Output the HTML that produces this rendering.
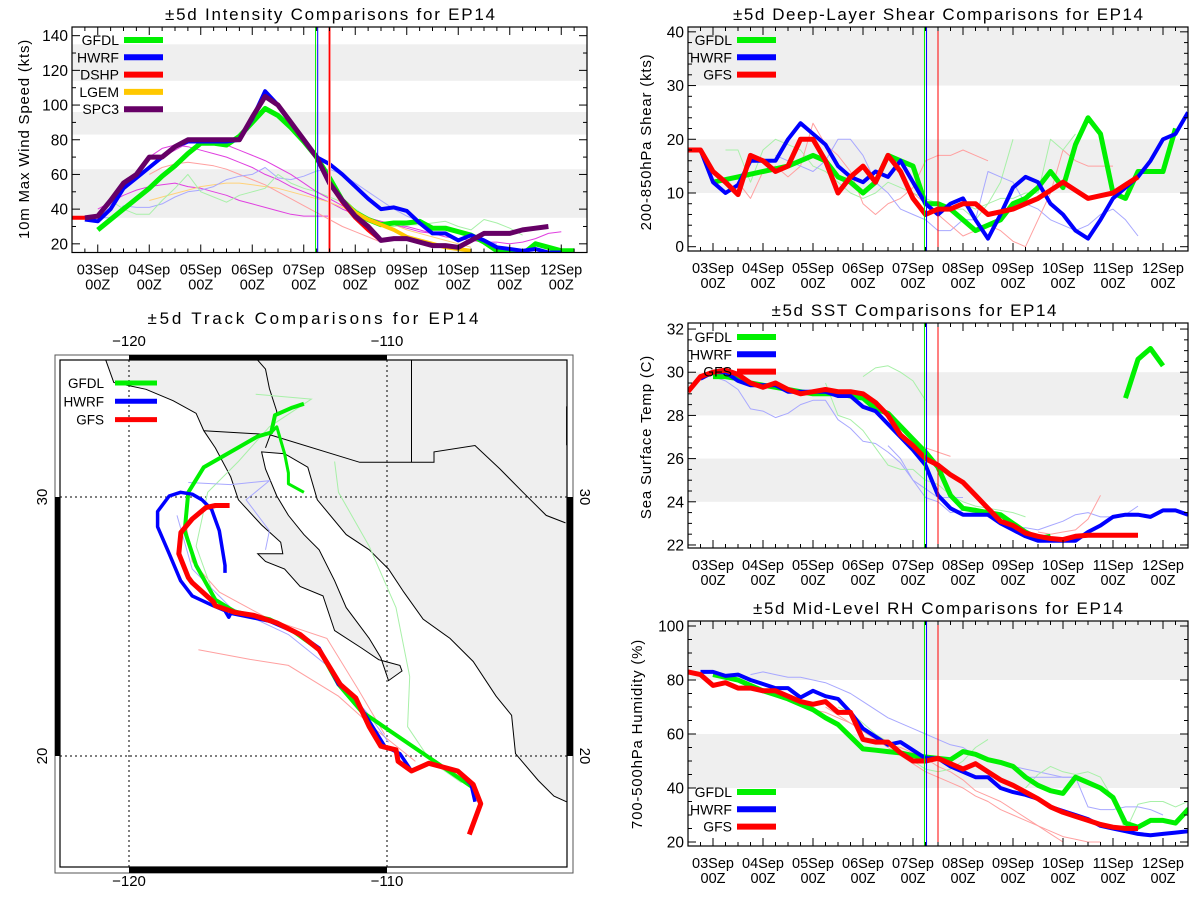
<!DOCTYPE html>
<html><head><meta charset="utf-8"><style>
body{margin:0;background:#fff;}
svg text{font-family:"Liberation Sans",sans-serif;fill:#000;}
</style></head><body>
<svg id="fig" width="1200" height="900" viewBox="0 0 1200 900" xmlns="http://www.w3.org/2000/svg">
<defs>
<clipPath id="c1"><rect x="72" y="27" width="515" height="225.5"/></clipPath>
<clipPath id="c2"><rect x="688" y="27" width="500" height="224"/></clipPath>
<clipPath id="c3"><rect x="688" y="323" width="500" height="225"/></clipPath>
<clipPath id="c4"><rect x="688" y="621" width="500" height="225"/></clipPath>
<clipPath id="cm"><rect x="60" y="360" width="507" height="507"/></clipPath>
</defs>
</svg>
<script>
// ---------- Intensity data (kts), 6-hourly from start hour ----------
const intSPC3Start = -6;
const intSPC3 = [35,36,45,55,60,70,70,76,80,80,80,80,80,93,105,100,90,80,70,55,45,36,30,22,23,23,21,19,19,18,22,26,26,26,28,29,30];
const intHWRFStart = -6;
const intHWRF = [34,33,40,52,58,64,70,76,79,79,79,79,80,92,108,100,90,80,70,66,60,53,46,40,41,39,32,26,26,22,25,22,18,17,16,17,15,15];
const intGFDLStart = 0;
const intGFDL = [28,34,40,46,52,59,65,72,78,78,77,82,90,98,94,87,79,70,58,45,38,34,31,32,32,33,29,29,27,25,21,16,16,14,20,18,16,16];
const intDSHPStart = -12;
const intDSHP = [35,35,36,45,55,60,70,70,76,80,80,80,80,80,93,105,100,90,80,70,55,44,35,28,22];
const intLGEMStart = 108;
const intLGEM = [55,45,38,34,31,28,24,22,20,18,17,16];
const intThinStarts = [0,24,24,24,0,0,30];
const intThin = [
 [40,44,48,51,53,54,55,53,52,50,48,45,43,41,39,37,36,36,36],
 [70,75,77,76,74,72,70,67,64,60,57,53,50,47,44,40,37,35,33,31,30,28,26,24,23,22,21,21,20,21,23,26,27],
 [45,47,49,51,53,54,55,55,54,53,52,50,48,46,44,41,38,35,33,31,28,26,24,22,20,18],
 [60,64,66,67,66,65,63,60,57,54,50,46,42,38,34,30,27,24,21],
 [35,35,42,41,41,43,47,50,51,53,57,59,60,64,58,57,59,62,63,60,55,50,45,40,36,33,30,28,26,24,22,20],
 [36,45,40,37,37,45,52,60,50,47,44,48,50,52,60,55,52,50,47,44,40,35,30,30,31,31,32,33,30,28,34,32,29,25],
 [70,74,78,80,79,77,74,71,68,64,60,55,50,46,42,38,35,33,31,29,27,26]
];
const intThinColors = ['#e040e0','#e040e0','#ffd27a','#ffa0a0','#a8a8ff','#a8f0a8','#e040e0'];
// ---------- Shear data (kts) ----------
const shrGFSStart = -12;
const shrGFS = [18,18,14,12,9.7,17,16,14,15,20,20,16,10,13,15,12,17,14,9,6,7,7,8,8,6,6.5,7,8,9,10.5,12,10.5,9,9.5,10,11.5,13];
const shrHWRFStart = -12;
const shrHWRF = [18,18,12,10,11.5,16,16,16,20,23,21,19,15,13,12,14,13,16,12,8,6,8,9,5,1.5,6,11,13,12,8,6,3,1.5,5,9,11,13,16,20,21,25];
const shrGFDLStart = 0;
const shrGFDL = [12,12.5,13,13.5,14,14.5,15,16,17,16,13,12,10,12,17,16,15,8,8,7,5,3,4,5,8,9,11,14,11,19,24,21,10,9,14,14,14,22];
const shrThinStarts = [6,12,30,96,120];
const shrThin = [
 [18,18,12,18,20,19,18,15,14,12,10,9,10,12,11,10,9,8,7,7,5,8,12,20],
 [12,9,14,15,13,15,23,19,17,14,8,6,8,9,11,16,17,17,18,17,16],
 [17,16,15,14,16,20,20,17,12,10,7,6,5,3,3,5,5,14,13,12,8,7,5,4,3,4,6,7,5,2],
 [10,8,6,4,2,3,4,3,1,0,5,10,18,16,15,15,15],
 [8,7,8,9,9,10,10,20,18,21]
];
const shrThinColors = ['#a8f0a8','#ffa0a0','#a8a8ff','#ffa0a0','#a8f0a8'];
// ---------- SST data (C) ----------
const sstGFSStart = -12;
const sstGFS = [29.1,29.8,30.0,30.1,29.9,29.5,29.3,29.5,29.2,29.0,29.1,29.2,29.1,29.1,29.0,28.6,28.0,27.1,26.6,26.0,25.7,25.25,24.9,24.3,23.7,23.1,22.9,22.55,22.4,22.3,22.25,22.4,22.45,22.45,22.45,22.45,22.45];
const sstHWRFStart = -6;
const sstHWRF = [29.7,30.0,30.0,29.6,29.4,29.4,29.4,29.1,29.1,29.1,29.1,28.9,28.9,28.4,28.2,27.6,27.0,26.4,25.7,24.3,23.7,23.4,23.4,23.4,23.0,22.7,22.4,22.2,22.2,22.2,22.2,22.6,22.9,23.3,23.4,23.4,23.3,23.6,23.6,23.4];
const sstGFDLStart = 0;
const sstGFDL = [29.8,29.8,29.7,29.5,29.4,29.3,29.2,29.1,29.0,29.0,29.0,28.9,28.8,28.3,28.1,27.5,26.9,26.3,25.6,24.3,23.7,23.6,23.5,23.4,23.0,22.6,22.3,22.4,null,null,null,null,null,28.8,30.6,31.1,30.3];
const sstThinStarts = [0,54,72,90,84,156];
const sstThin = [
 [29.8,29.6,29.2,28.3,28.2,27.9,28.1,28.5,28.7,28.7,27.8,27.4,26.8,26.7,26.3,25.8,25.0,24.6,24.2,24.2,24.2],
 [29.5,28.0,27.8,27.3,26.5,25.7,25.5,25.5,25.0,24.8,24.3,24.0,23.8,23.7,23.6,23.5,23.3],
 [29.8,30.2,30.3,30.0,29.6,28.7],
 [27.0,26.7,26.5,26.3,26.1],
 [26.6,26.0,25.0,24.2,24.0,23.5,23.6,23.7,23.3,23.0,22.8,22.8,22.7,22.9,23.1,23.4,23.5,23.3,23.3,23.4,23.8],
 [22.6,22.5,22.6,22.7,23.2,24.3]
];
const sstThinColors = ['#a8a8ff','#a8f0a8','#a8f0a8','#ffa0a0','#a8a8ff','#ffa0a0'];
// ---------- RH data (%) ----------
const rhGFSStart = -12;
const rhGFS = [83,82,78,79,77,77,76,76,74,72,71,72,68,68,58,57,57,53,50,50,51,49,47,49,46,43,41,38.5,36,33,31,29.5,28,26.5,25.5,25,25];
const rhHWRFStart = -6;
const rhHWRF = [83,83,81.5,82,80,78.5,77,77,73.5,76,74,73,68,62,59,56,57,54,51,51,48,46,44,44,40,38.5,37.5,36,33,31.5,30,28.5,26,25,24,23,22.5,23,23.5,24];
const rhGFDLStart = 0;
const rhGFDL = [82,81,80,78,76,74.5,73,71,69,66,63.5,59,54.5,54,53.5,53,52,51.5,51,50.5,53.5,52.5,50.5,49.5,48,44,41,39,38,44,42,40,36.5,27,25.5,28,28,27,32,33.5];
const rhThinStarts = [18,30,54,60,150,150];
const rhThin = [
 [82,83,82,81,81,80,79,77,75,72,69,66,64,62,60,58,56,55,52,51,50,48,47,46,45,44,44],
 [75,73,71,69,68,66,64,62,58,56,55,53,51,48,46,43,39,37,35,32,29,26,23,20],
 [70,67,64,61,58,55,52,49,46,44,42,40,37,35,32,30,28,26,24,22,21,20,20],
 [70,68,64,60,57,54,50,47,46,47,50,55,58],
 [40,45,48,46,45,46,44,36,24,34,35,35,33,35,37],
 [44,44,44,44,44,33,32,32,33,33,32,30]
];
const rhThinColors = ['#a8a8ff','#ffa0a0','#ffa0a0','#a8f0a8','#a8f0a8','#a8a8ff'];
// ---------- Track data (lon, lat) ----------
const trkGFSLon = [-106.81,-106.37,-106.66,-107.26,-108.38,-109.05,-109.57,-109.65,-110.24,-110.69,-111.21,-111.81,-112.63,-113.37,-114.27,-115.16,-115.91,-116.65,-116.73,-117.55,-117.70,-118.07,-117.99,-117.55,-117.02,-116.65,-116.10];
const trkGFSLat = [16.97,18.16,18.9,19.42,19.72,19.42,19.79,20.24,20.38,21.13,22.24,22.76,24.10,24.69,25.14,25.43,25.55,25.80,25.95,26.69,26.89,27.81,28.63,29.15,29.59,29.67,29.67];
const trkHWRFLon = [-106.59,-106.74,-107.26,-108.38,-109.05,-109.50,-110.09,-111.29,-111.88,-112.63,-113.37,-114.56,-116.06,-116.13,-116.28,-116.73,-117.55,-118.0,-118.44,-118.89,-118.89,-118.44,-118.0,-117.55,-117.17,-116.80,-116.50,-116.28,-116.28];
const trkHWRFLat = [18.23,18.90,19.42,19.72,19.42,20.09,20.38,22.31,22.76,24.17,24.69,25.21,25.51,25.36,25.61,25.80,26.18,26.77,27.81,28.85,29.44,30.04,30.18,30.11,29.89,29.52,28.70,27.36,27.07];
const trkGFDLLon = [-106.74,-108.15,-110.99,-111.88,-112.63,-113.67,-114.56,-115.91,-116.65,-117.40,-117.84,-117.70,-117.10,-116.06,-115.01,-114.49,-114.34,-113.67,-113.22];
const trkGFDLLat = [18.83,19.79,21.72,22.76,24.10,24.84,25.28,25.58,26.03,27.36,28.70,30.18,31.15,31.74,32.34,32.49,33.16,33.45,33.60];
const trkGFDL2Lon = [-114.49,-114.27,-113.97,-113.82,-113.82,-113.22];
const trkGFDL2Lat = [32.49,32.71,31.67,30.93,30.51,30.18];
const thinTrkLon = [
 [-117.31,-115.31,-113.82,-111.88,-110.39,-108.9],
 [-117.84,-117.55,-116.50,-114.56,-112.33,-111.14,-110.09],
 [-112.03,-111.88,-110.69,-109.65,-109.12,-109.2,-108.3,-107.11],
 [-115.09,-112.93,-114.56,-115.76,-116.95,-117.40,-116.65],
 [-117.70,-116.06,-114.56,-115.46,-114.56,-114.71],
 [-118.14,-117.55,-116.06,-113.82,-112.33,-110.69,-109.94]
];
const thinTrkLat = [
 [24.10,23.73,23.50,22.31,20.98,19.79],
 [29.29,27.51,26.33,25.28,24.54,22.61,20.83],
 [31.37,30.18,28.10,25.73,23.06,21.13,19.79,18.97],
 [33.97,33.78,32.71,31.37,30.18,28.10,26.03],
 [30.56,30.48,30.63,29.89,28.70,27.96],
 [29.29,27.22,25.73,24.69,23.50,21.57,20.53]
];
const thinTrkColors = ['#ffa0a0','#ffa0a0','#a8f0a8','#a8f0a8','#a8a8ff','#a8a8ff'];
// land outline (lon,lat)
const landLon = [-120.90,-120.59,-119.34,-118.29,-117.40,-117.10,-116.65,-116.06,-115.76,-114.86,-114.12,-114.04,-115.01,-114.71,-113.97,-113.37,-112.48,-112.03,-110.99,-110.32,-109.50,-109.42,-109.94,-110.09,-110.24,-110.69,-111.58,-112.03,-112.63,-113.22,-113.82,-114.27,-114.71,-114.86,-113.97,-113.07,-112.70,-111.58,-110.69,-109.94,-109.35,-108.60,-107.56,-106.66,-105.77,-105.17,-105.02,-104.13,-103.53,-103.04];
const landLat = [35.28,34.42,34.16,33.72,33.23,32.56,31.89,30.78,29.89,28.92,28.25,27.81,27.81,27.51,27.22,26.55,26.18,24.84,24.17,23.72,23.50,23.28,22.91,23.35,23.80,24.54,25.73,26.77,27.96,28.55,29.29,30.04,31.08,31.74,31.67,31.15,29.89,28.55,27.96,27.22,26.33,25.28,24.54,23.65,22.31,21.57,20.09,19.05,18.45,18.23];
const borderLon = [-117.10,-114.56,-111.06,-108.18,-108.18,-106.59,-105.62,-104.73,-103.83,-103.08];
const borderLat = [32.56,32.41,31.34,31.34,31.74,31.99,31.08,30.18,29.29,29.0];
const riverLon = [-115.01,-114.71,-114.56,-114.27,-114.42,-114.49,-114.71];
const riverLat = [35.28,34.94,34.19,33.30,32.71,32.49,31.9];

const NS='http://www.w3.org/2000/svg';
const svg=document.getElementById('fig');
function mk(tag,attrs,parent){const e=document.createElementNS(NS,tag);for(const k in attrs)e.setAttribute(k,attrs[k]);(parent||svg).appendChild(e);return e;}

function drawPanel(P){
  const g=mk('g',{});
  
  
  const xs=h=>P.x0+(h/24+0.5)*P.w/10;
  const ys=v=>P.y1-(v-P.d0)*(P.y1-P.y0)/(P.d1-P.d0);
  // bands
  P.bands.forEach(b=>{
    const r=mk('rect',{x:P.x0,y:ys(Math.min(b[1],P.d1)),width:P.w,height:ys(b[0])-ys(Math.min(b[1],P.d1)),fill:'#efefef'},g);
    
    
  });
  const lg=mk('g',{'clip-path':'url(#'+P.clip+')'},g);
  function line(start,vals,color,w,name){
    let segs=[],cur=[];
    vals.forEach((v,i)=>{if(v===null){if(cur.length)segs.push(cur);cur=[];}else cur.push(xs(start+6*i).toFixed(1)+','+ys(v).toFixed(1));});
    if(cur.length)segs.push(cur);
    segs.forEach(s=>{
      const p=mk('polyline',{points:s.join(' '),fill:'none',stroke:color,'stroke-width':w,'stroke-linejoin':'round'},lg);
      
      
    });
  }
  P.thin.forEach((t,i)=>line(P.thinStarts[i],t,P.thinColors[i],1,'ensemble-line'));
  // vertical lines
  P.vlines.forEach(v=>{
    const l=mk('line',{x1:xs(v[0]),x2:xs(v[0]),y1:P.y0,y2:P.y1,stroke:v[1],'stroke-width':v[2]},g);
    
    
  });
  P.series.forEach(s=>line(s.start,s.vals,s.color,s.w,'series-'+s.name.toLowerCase()));
  // frame
  const fr=mk('rect',{x:P.x0,y:P.y0,width:P.w,height:P.y1-P.y0,fill:'none',stroke:'#000','stroke-width':1.2},g);
  
  
  // x ticks
  for(let h=-12;h<=228;h+=6){
    const x=xs(h);if(x<P.x0+0.5||x>P.x0+P.w-0.5)continue;
    const L=(h%24===0)?8:4;
    mk('line',{x1:x,x2:x,y1:P.y1,y2:P.y1-L,stroke:'#000','stroke-width':1},g);
    mk('line',{x1:x,x2:x,y1:P.y0,y2:P.y0+L,stroke:'#000','stroke-width':1},g);
  }
  const days=['03Sep','04Sep','05Sep','06Sep','07Sep','08Sep','09Sep','10Sep','11Sep','12Sep'];
  days.forEach((d,i)=>{
    const t=mk('text',{x:xs(24*i),y:P.y1+22,'font-size':14.5,'text-anchor':'middle'},g);t.textContent=d;
    
    const t2=mk('text',{x:xs(24*i),y:P.y1+37,'font-size':14.5,'text-anchor':'middle'},g);t2.textContent='00Z';
    
  });
  // y ticks
  for(let v=Math.ceil(P.d0/P.minor)*P.minor;v<=P.d1;v+=P.minor){
    const y=ys(v);const maj=Math.abs(v/P.major-Math.round(v/P.major))<1e-6;const L=maj?8:4;
    mk('line',{x1:P.x0,x2:P.x0+L,y1:y,y2:y,stroke:'#000','stroke-width':1},g);
    mk('line',{x1:P.x0+P.w,x2:P.x0+P.w-L,y1:y,y2:y,stroke:'#000','stroke-width':1},g);
    if(maj){const t=mk('text',{x:P.x0-4,y:y+5.5,'font-size':15.5,'text-anchor':'end'},g);t.textContent=Math.round(v);
      }
  }
  const yt=mk('text',{x:0,y:0,'font-size':15,'text-anchor':'middle',transform:'translate('+P.ytx+','+P.yty+') rotate(-90)','letter-spacing':'0.8'},g);
  yt.textContent=P.ytitle;
  const tt=mk('text',{x:P.tx,y:P.ty,'font-size':17,'text-anchor':'middle',textLength:P.tl,lengthAdjust:'spacing'},g);
  tt.textContent=P.title;
  // legend
  P.series.filter(s=>s.leg).forEach((s,i)=>{
    const y=P.legY+i*17.3;
    const t=mk('text',{x:P.legTx,y:y+5,'font-size':14,'text-anchor':'end'},g);t.textContent=s.name;
    
    const l=mk('line',{x1:P.legLx,x2:P.legLx+39,y1:y,y2:y,stroke:s.color,'stroke-width':6},g);
    
  });
}

const G='#00f000',B='#0000ff',R='#ff0000';
drawPanel({id:'intensity',x0:72,w:515,y0:27,y1:252.5,d0:15,d1:145,major:20,minor:10,clip:'c1',
 bands:[[35,63],[83,96],[114,135]],thin:intThin,thinStarts:intThinStarts,thinColors:intThinColors,
 vlines:[[101.5,G,1],[102.5,B,1],[108,'#ff9090',3],[108,R,1]],
 series:[{name:'GFDL',start:intGFDLStart,vals:intGFDL,color:G,w:5,leg:1},{name:'HWRF',start:intHWRFStart,vals:intHWRF,color:B,w:4,leg:1},
  {name:'DSHP',start:intDSHPStart,vals:intDSHP,color:R,w:4,leg:1},{name:'LGEM',start:intLGEMStart,vals:intLGEM,color:'#ffc800',w:4,leg:1},
  {name:'SPC3',start:intSPC3Start,vals:intSPC3,color:'#660066',w:5,leg:1}],
 ytitle:'10m Max Wind Speed (kts)',ytx:29,yty:139,title:'±5d Intensity Comparisons for EP14',tx:330,ty:20,tl:330,
 legY:40,legTx:119,legLx:124});
drawPanel({id:'shear',x0:688,w:500,y0:27,y1:251,d0:-0.8,d1:40.9,major:10,minor:2,clip:'c2',
 bands:[[10,20],[30,41]],thin:shrThin,thinStarts:shrThinStarts,thinColors:shrThinColors,
 vlines:[[101.5,G,1],[102.5,B,1],[108,R,1]],
 series:[{name:'GFDL',start:shrGFDLStart,vals:shrGFDL,color:G,w:5,leg:1},{name:'HWRF',start:shrHWRFStart,vals:shrHWRF,color:B,w:4,leg:1},{name:'GFS',start:shrGFSStart,vals:shrGFS,color:R,w:5,leg:1}],
 ytitle:'200-850hPa Shear (kts)',ytx:651,yty:142,title:'±5d Deep-Layer Shear Comparisons for EP14',tx:938,ty:20,tl:410,
 legY:40,legTx:732,legLx:737});
drawPanel({id:'sst',x0:688,w:500,y0:323,y1:548,d0:21.86,d1:32.28,major:2,minor:0.5,clip:'c3',
 bands:[[24,26],[28,30]],thin:sstThin,thinStarts:sstThinStarts,thinColors:sstThinColors,
 vlines:[[101.5,G,1],[102.5,B,1],[108,R,1]],
 series:[{name:'GFDL',start:sstGFDLStart,vals:sstGFDL,color:G,w:5,leg:1},{name:'HWRF',start:sstHWRFStart,vals:sstHWRF,color:B,w:4,leg:1},{name:'GFS',start:sstGFSStart,vals:sstGFS,color:R,w:5,leg:1}],
 ytitle:'Sea Surface Temp (C)',ytx:651,yty:437,title:'±5d SST Comparisons for EP14',tx:914,ty:316,tl:285,
 legY:337,legTx:732,legLx:737});
drawPanel({id:'humidity',x0:688,w:500,y0:621,y1:846,d0:18.52,d1:101.85,major:20,minor:5,clip:'c4',
 bands:[[40,60],[80,102]],thin:rhThin,thinStarts:rhThinStarts,thinColors:rhThinColors,
 vlines:[[101.5,G,1],[102.5,B,1],[108,R,1]],
 series:[{name:'GFDL',start:rhGFDLStart,vals:rhGFDL,color:G,w:5,leg:1},{name:'HWRF',start:rhHWRFStart,vals:rhHWRF,color:B,w:4,leg:1},{name:'GFS',start:rhGFSStart,vals:rhGFS,color:R,w:5,leg:1}],
 ytitle:'700-500hPa Humidity (%)',ytx:642,yty:734,title:'±5d Mid-Level RH Comparisons for EP14',tx:938,ty:614,tl:370,
 legY:792,legTx:732,legLx:737});

// ---------- Map ----------
(function(){
  const g=mk('g',{});
  
  
  const mx=lon=>129+(lon+120)*25.8;
  const my=lat=>497-(lat-30)*25.9;
  const pts=(lo,la)=>lo.map((v,i)=>mx(v).toFixed(1)+','+my(la[i]).toFixed(1)).join(' ');
  const cg=mk('g',{'clip-path':'url(#cm)'},g);
  const land=mk('polygon',{points:pts(landLon.concat([-102,-102,-121.5]),landLat.concat([18.23,36,36])),fill:'#efefef',stroke:'none'},cg);
  
  const coast=mk('polyline',{points:pts(landLon,landLat),fill:'none',stroke:'#000','stroke-width':1},cg);
  
  [[borderLon,borderLat],[riverLon,riverLat],[[-109.05,-109.05],[35.5,31.34]],[[-103.04,-103.04],[33.5,32.0]]].forEach(b=>{
    const l=mk('polyline',{points:pts(b[0],b[1]),fill:'none',stroke:'#000','stroke-width':1},cg);
    
  });
  // grid
  [-120,-110].forEach(lo=>mk('line',{x1:mx(lo),x2:mx(lo),y1:360,y2:867,stroke:'#000','stroke-width':1,'stroke-dasharray':'2,3'},cg));
  [20,30].forEach(la=>mk('line',{x1:60,x2:567,y1:my(la),y2:my(la),stroke:'#000','stroke-width':1,'stroke-dasharray':'2,3'},cg));
  thinTrkLon.forEach((lo,i)=>{const l=mk('polyline',{points:pts(lo,thinTrkLat[i]),fill:'none',stroke:thinTrkColors[i],'stroke-width':1},cg);
    });
  [[trkGFDLLon,trkGFDLLat,G,4,'gfdl-track'],[trkGFDL2Lon,trkGFDL2Lat,G,3,'gfdl-track-branch'],[trkHWRFLon,trkHWRFLat,B,3.5,'hwrf-track'],[trkGFSLon,trkGFSLat,R,5,'gfs-track']].forEach(t=>{
    const l=mk('polyline',{points:pts(t[0],t[1]),fill:'none',stroke:t[2],'stroke-width':t[3],'stroke-linejoin':'round'},cg);
    
  });
  // frame
  mk('rect',{x:55,y:355,width:518,height:518,fill:'none',stroke:'#555','stroke-width':1},g);
  mk('rect',{x:60,y:360,width:507,height:507,fill:'none',stroke:'#000','stroke-width':1.2},g);
  mk('rect',{x:mx(-120),y:355,width:mx(-110)-mx(-120),height:5,fill:'#000'},g);
  mk('rect',{x:mx(-120),y:867,width:mx(-110)-mx(-120),height:6,fill:'#000'},g);
  mk('rect',{x:55,y:my(30),width:5,height:my(20)-my(30),fill:'#000'},g);
  mk('rect',{x:567,y:my(30),width:6,height:my(20)-my(30),fill:'#000'},g);
  [-120,-110].forEach(lo=>{
    [346,886].forEach(y=>{const t=mk('text',{x:mx(lo),y:y,'font-size':15,'text-anchor':'middle'},g);t.textContent='−'+Math.abs(lo);
      });
  });
  [30,20].forEach(la=>{
    const t=mk('text',{x:0,y:0,'font-size':15,'text-anchor':'middle',transform:'translate(47,'+my(la)+') rotate(-90)'},g);t.textContent=la;
    
    const t2=mk('text',{x:0,y:0,'font-size':15,'text-anchor':'middle',transform:'translate(580,'+my(la)+') rotate(90)'},g);t2.textContent=la;
    
  });
  const tt=mk('text',{x:313,y:324,'font-size':17,'text-anchor':'middle',textLength:331,lengthAdjust:'spacing'},g);
  tt.textContent='±5d Track Comparisons for EP14';
  [['GFDL',G],['HWRF',B],['GFS',R]].forEach((s,i)=>{
    const y=383+i*18.3;
    const t=mk('text',{x:104,y:y+5,'font-size':13.5,'text-anchor':'end'},g);t.textContent=s[0];
    
    const l=mk('line',{x1:115,x2:157,y1:y,y2:y,stroke:s[1],'stroke-width':5},g);
    
  });
})();
</script>
</body></html>
